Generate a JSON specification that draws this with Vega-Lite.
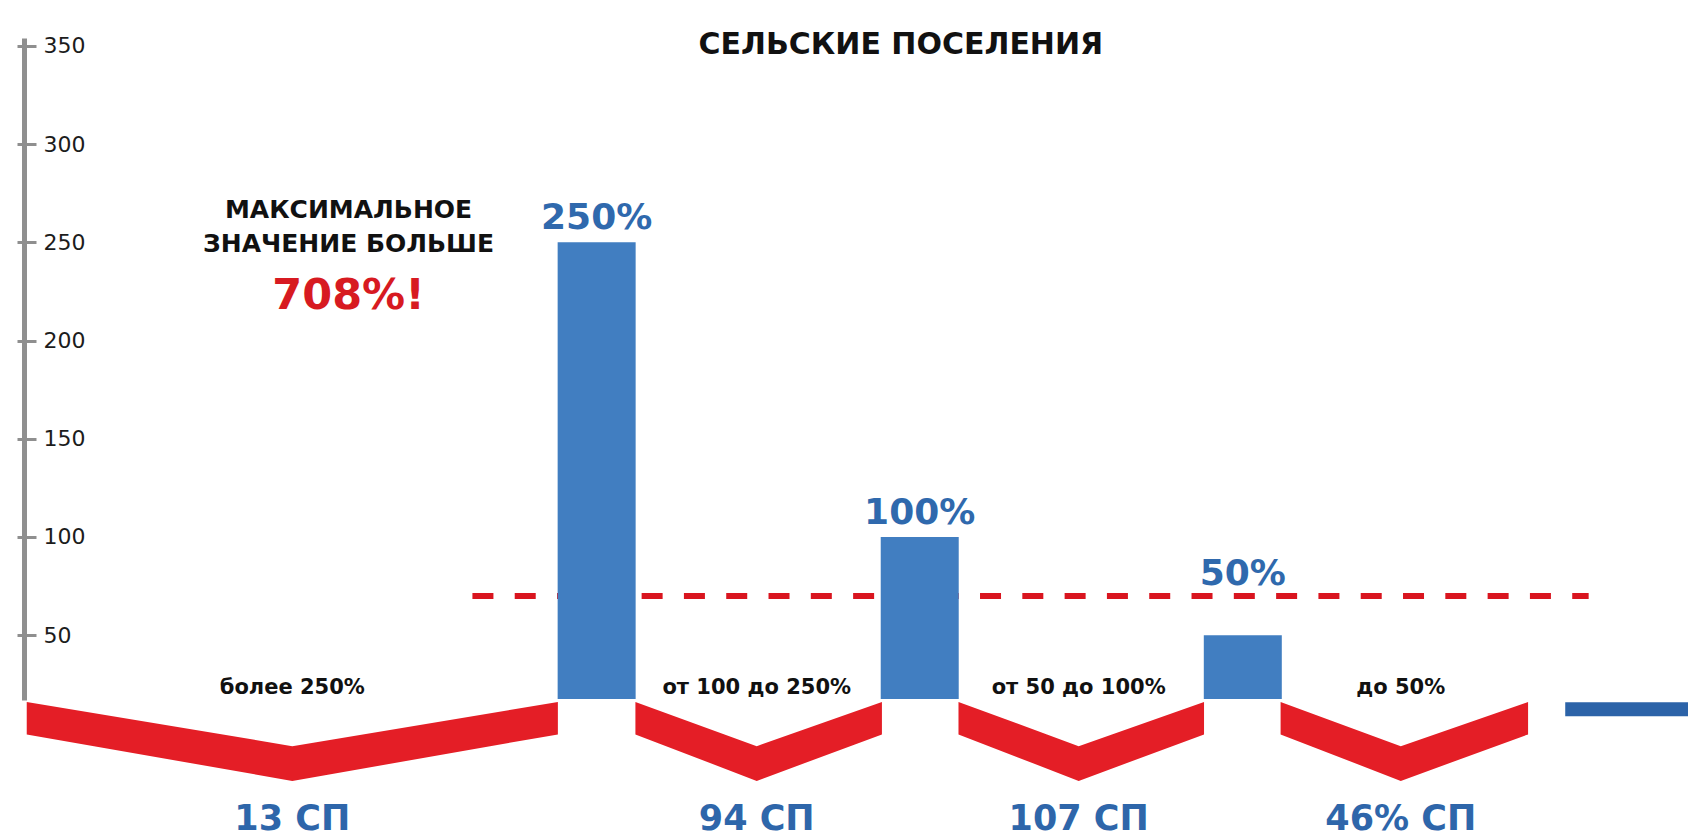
{
  "$schema": "https://vega.github.io/schema/vega-lite/v6.json",
  "width": 1669,
  "height": 662,
  "autosize": {"type": "none"},
  "padding": {"left": 24, "top": 38, "right": 0, "bottom": 139},
  "background": "white",
  "config": {"view": {"stroke": null}, "text": {"font": "DejaVu Sans"}},
  "datasets": {
    "bars": [
      {"pos": 3.514, "value": 250, "label": "250%"},
      {"pos": 5.514, "value": 100, "label": "100%"},
      {"pos": 7.514, "value": 50, "label": "50%"}
    ],
    "reference": [{"level": 70}],
    "zigzag": [
      {"seg": 1, "pos": -0.014, "top": 16, "bottom": -0.5},
      {"seg": 1, "pos": 1.63, "top": -6.5, "bottom": -24.2},
      {"seg": 1, "pos": 3.274, "top": 16, "bottom": -0.5},
      {"seg": 2, "pos": 3.754, "top": 16, "bottom": -0.5},
      {"seg": 2, "pos": 4.505, "top": -6.5, "bottom": -24.2},
      {"seg": 2, "pos": 5.28, "top": 16, "bottom": -0.5},
      {"seg": 3, "pos": 5.754, "top": 16, "bottom": -0.5},
      {"seg": 3, "pos": 6.498, "top": -6.5, "bottom": -24.2},
      {"seg": 3, "pos": 7.274, "top": 16, "bottom": -0.5},
      {"seg": 4, "pos": 7.748, "top": 16, "bottom": -0.5},
      {"seg": 4, "pos": 8.492, "top": -6.5, "bottom": -24.2},
      {"seg": 4, "pos": 9.28, "top": 16, "bottom": -0.5}
    ],
    "groups": [
      {"pos": 1.63, "range": "более 250%", "count": "13 СП"},
      {"pos": 4.505, "range": "от 100 до 250%", "count": "94 СП"},
      {"pos": 6.498, "range": "от 50 до 100%", "count": "107 СП"},
      {"pos": 8.492, "range": "до 50%", "count": "46% СП"}
    ]
  },
  "layer": [
    {
      "data": {"name": "reference"},
      "mark": {"type": "rule", "color": "#d9151f", "strokeWidth": 6, "strokeDash": [21, 21.3], "strokeCap": "butt"},
      "encoding": {
        "x": {"datum": 2.745, "type": "quantitative", "scale": {"domain": [0, 10.27], "nice": false, "zero": false}, "axis": null},
        "x2": {"datum": 9.655},
        "y": {"field": "level", "type": "quantitative", "scale": {"domain": [17, 354], "nice": false, "zero": false},
          "axis": {"orient": "left", "values": [50, 100, 150, 200, 250, 300, 350], "domain": false, "labels": false, "grid": false, "title": null, "tickSize": -12, "tickWidth": 3, "tickColor": "#8f8f8f"}}
      }
    },
    {
      "data": {"name": "zigzag"},
      "mark": {"type": "area", "color": "#e41e26", "orient": "vertical", "interpolate": "linear"},
      "encoding": {
        "x": {"field": "pos", "type": "quantitative", "scale": {"domain": [0, 10.27], "nice": false, "zero": false}, "axis": null},
        "y": {"field": "top", "type": "quantitative", "scale": {"domain": [17, 354], "nice": false, "zero": false}, "axis": null},
        "y2": {"field": "bottom"},
        "detail": {"field": "seg", "type": "nominal"}
      }
    },
    {
      "data": {"name": "bars"},
      "mark": {"type": "bar", "color": "#417ec1", "width": 78, "orient": "vertical"},
      "encoding": {
        "x": {"field": "pos", "type": "quantitative", "scale": {"domain": [0, 10.27], "nice": false, "zero": false}, "axis": null},
        "y": {"field": "value", "type": "quantitative", "scale": {"domain": [17, 354], "nice": false, "zero": false},
          "axis": {"orient": "left", "values": [50, 100, 150, 200, 250, 300, 350], "title": null, "grid": false,
            "domainColor": "#8f8f8f", "domainWidth": 5, "domainCap": "butt", "tickColor": "#8f8f8f", "tickWidth": 3, "tickSize": 7,
            "labelAlign": "left", "labelBaseline": "middle", "labelPadding": -26, "labelFont": "DejaVu Sans", "labelFontSize": 22, "labelColor": "#1c1c1c"}},
        "y2": {"datum": 17.5}
      }
    },
    {
      "data": {"values": [{}]},
      "mark": {"type": "rule", "color": "#2c63a8", "strokeWidth": 14, "strokeCap": "butt"},
      "encoding": {
        "x": {"datum": 9.51, "type": "quantitative", "scale": {"domain": [0, 10.27], "nice": false, "zero": false}, "axis": null},
        "x2": {"datum": 10.27},
        "y": {"datum": 12.3, "type": "quantitative", "scale": {"domain": [17, 354], "nice": false, "zero": false}, "axis": null}
      }
    },
    {
      "data": {"name": "bars"},
      "transform": [{"filter": "datum.value > 50"}],
      "mark": {"type": "text", "font": "DejaVu Sans", "fontWeight": "bold", "fontSize": 36, "color": "#2f69ad", "align": "center", "baseline": "alphabetic", "dy": -13},
      "encoding": {
        "x": {"field": "pos", "type": "quantitative", "scale": {"domain": [0, 10.27], "nice": false, "zero": false}, "axis": null},
        "y": {"field": "value", "type": "quantitative", "scale": {"domain": [17, 354], "nice": false, "zero": false}, "axis": null},
        "text": {"field": "label"}
      }
    },
    {
      "data": {"name": "bars"},
      "transform": [{"filter": "datum.value <= 50"}],
      "mark": {"type": "text", "font": "DejaVu Sans", "fontWeight": "bold", "fontSize": 36, "color": "#2f69ad", "align": "center", "baseline": "alphabetic", "dy": -50},
      "encoding": {
        "x": {"field": "pos", "type": "quantitative", "scale": {"domain": [0, 10.27], "nice": false, "zero": false}, "axis": null},
        "y": {"field": "value", "type": "quantitative", "scale": {"domain": [17, 354], "nice": false, "zero": false}, "axis": null},
        "text": {"field": "label"}
      }
    },
    {
      "data": {"name": "groups"},
      "mark": {"type": "text", "font": "DejaVu Sans", "fontWeight": "bold", "fontSize": 21, "color": "#111111", "align": "center", "baseline": "alphabetic", "dy": -5},
      "encoding": {
        "x": {"field": "pos", "type": "quantitative", "scale": {"domain": [0, 10.27], "nice": false, "zero": false}, "axis": null},
        "y": {"datum": 17.5, "type": "quantitative", "scale": {"domain": [17, 354], "nice": false, "zero": false}, "axis": null},
        "text": {"field": "range"}
      }
    },
    {
      "data": {"name": "groups"},
      "mark": {"type": "text", "font": "DejaVu Sans", "fontWeight": "bold", "fontSize": 35, "color": "#2e66aa", "align": "center", "baseline": "alphabetic"},
      "encoding": {
        "x": {"field": "pos", "type": "quantitative", "scale": {"domain": [0, 10.27], "nice": false, "zero": false}, "axis": null},
        "y": {"datum": -49.2, "type": "quantitative", "scale": {"domain": [17, 354], "nice": false, "zero": false}, "axis": null},
        "text": {"field": "count"}
      }
    },
    {
      "data": {"values": [{"title": "СЕЛЬСКИЕ ПОСЕЛЕНИЯ"}]},
      "mark": {"type": "text", "font": "DejaVu Sans", "fontWeight": "bold", "fontSize": 30, "color": "#111111", "align": "center", "baseline": "alphabetic"},
      "encoding": {
        "x": {"datum": 5.397, "type": "quantitative", "scale": {"domain": [0, 10.27], "nice": false, "zero": false}, "axis": null},
        "y": {"datum": 346, "type": "quantitative", "scale": {"domain": [17, 354], "nice": false, "zero": false}, "axis": null},
        "text": {"field": "title"}
      }
    },
    {
      "data": {"values": [{"note": ["МАКСИМАЛЬНОЕ", "ЗНАЧЕНИЕ БОЛЬШЕ"]}]},
      "mark": {"type": "text", "font": "DejaVu Sans", "fontWeight": "bold", "fontSize": 25, "lineHeight": 34, "color": "#111111", "align": "center", "baseline": "alphabetic"},
      "encoding": {
        "x": {"datum": 1.978, "type": "quantitative", "scale": {"domain": [0, 10.27], "nice": false, "zero": false}, "axis": null},
        "y": {"datum": 262.6, "type": "quantitative", "scale": {"domain": [17, 354], "nice": false, "zero": false}, "axis": null},
        "text": {"field": "note"}
      }
    },
    {
      "data": {"values": [{"max": "708%!"}]},
      "mark": {"type": "text", "font": "DejaVu Sans", "fontWeight": "bold", "fontSize": 43, "color": "#d71a21", "align": "center", "baseline": "alphabetic"},
      "encoding": {
        "x": {"datum": 1.978, "type": "quantitative", "scale": {"domain": [0, 10.27], "nice": false, "zero": false}, "axis": null},
        "y": {"datum": 216.2, "type": "quantitative", "scale": {"domain": [17, 354], "nice": false, "zero": false}, "axis": null},
        "text": {"field": "max"}
      }
    }
  ],
  "resolve": {"axis": {"y": "independent"}}
}
